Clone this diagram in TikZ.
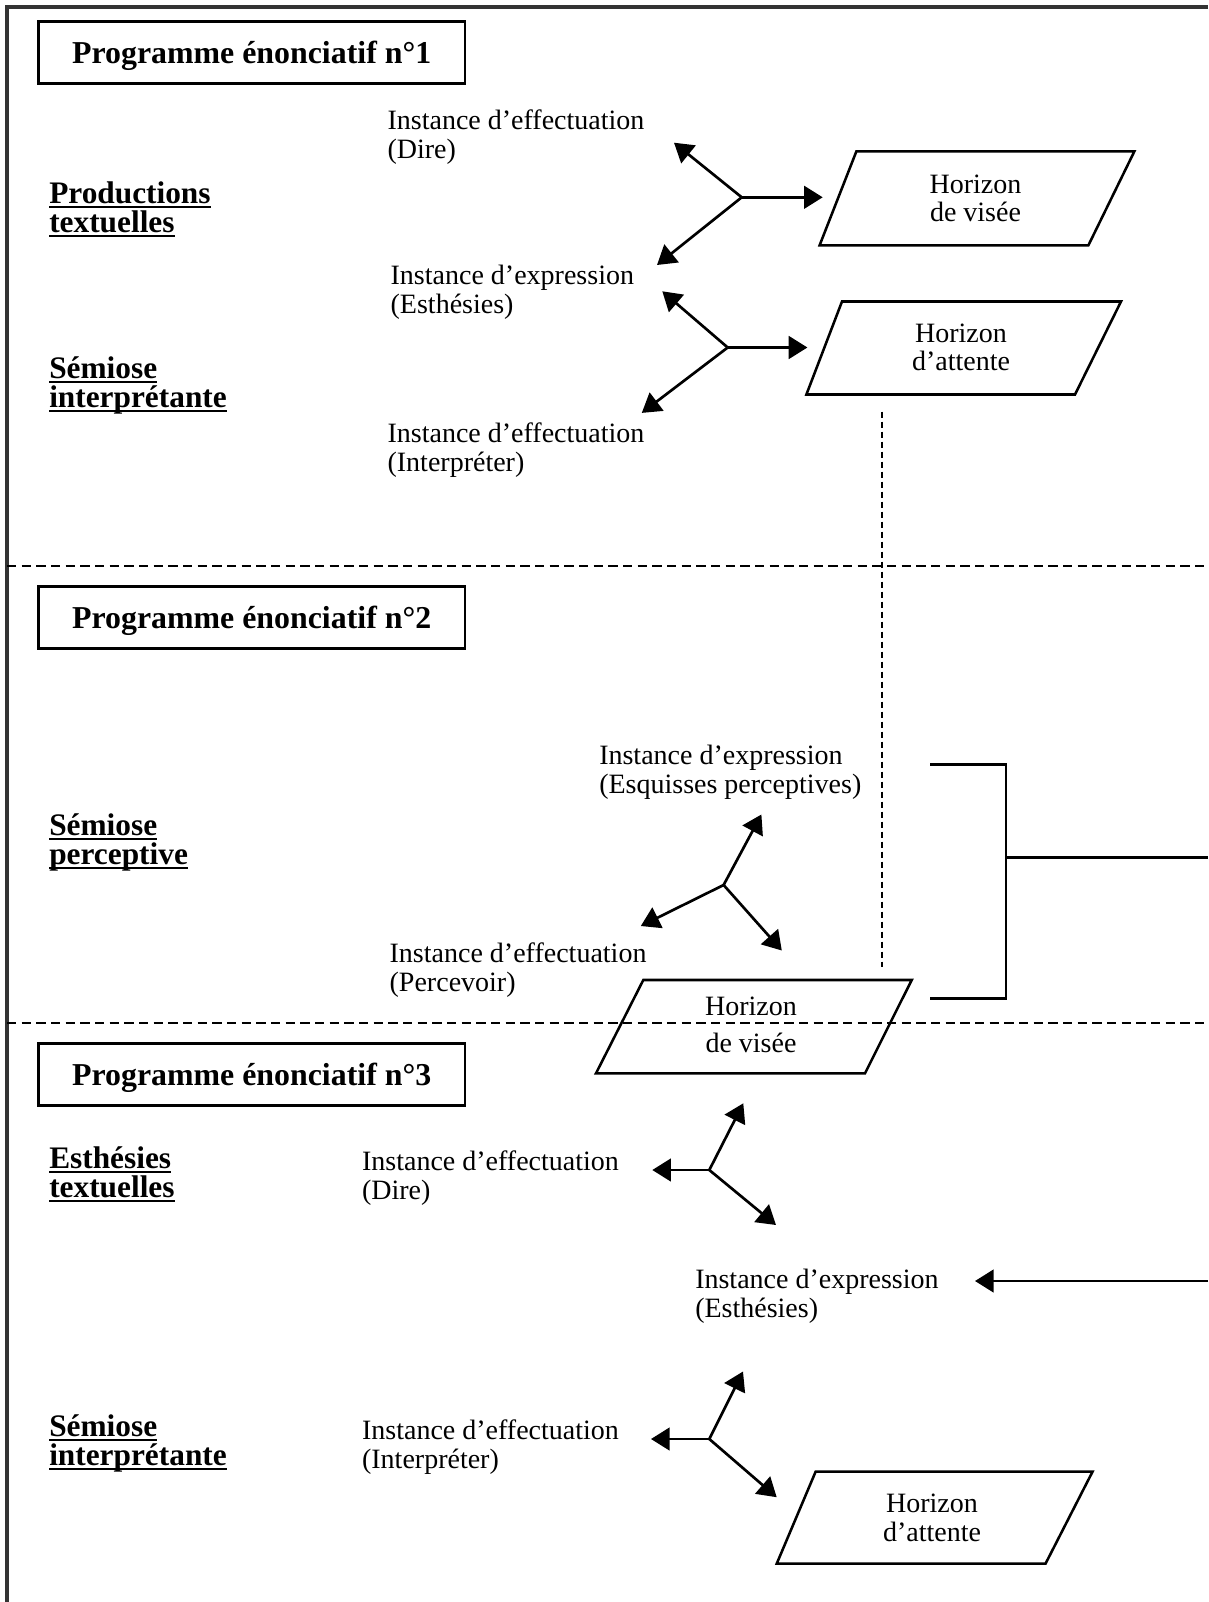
\documentclass[tikz,border=0pt]{standalone}
\usepackage{fontspec}
\setmainfont{Liberation Serif}
\usetikzlibrary{arrows.meta}
\newsavebox{\ulbox}
\newcommand{\uln}[1]{\sbox{\ulbox}{#1}\rlap{\rule[-3pt]{\wd\ulbox}{1.3pt}}\usebox{\ulbox}}
\begin{document}
\begin{tikzpicture}[x=0.75pt,y=-0.75pt,
  ln/.style={line width=1.9pt, line join=miter},
  arr/.style={line width=2pt, -{Triangle[length=14pt,width=17pt]}},
  sepline/.style={line width=1.8pt, dash pattern=on 7pt off 4pt},
  dotline/.style={line width=1.4pt, dash pattern=on 4.5pt off 3pt},
  framel/.style={line width=2.3pt, draw=black!80},
  txt/.style={font=\fontsize{21}{21.5}\selectfont, align=left, anchor=base west, inner sep=0pt},
  side/.style={font=\fontsize{23.5}{21.5}\selectfont\bfseries, align=left, anchor=base west, inner sep=0pt},
  hz/.style={font=\fontsize{21}{21.5}\selectfont, align=center, anchor=base, inner sep=0pt},
  prog/.style={draw, line width=2pt, font=\fontsize{23.9}{28}\selectfont\bfseries,
    minimum width=320pt, minimum height=46.5pt, inner sep=0pt, text height=17pt, text depth=0.8pt, anchor=center}
]
\useasboundingbox (0,0) rectangle (1208,1602);
% frame
\coordinate (fr0) at (7,7);
\coordinate (frR) at (1208,7);
\coordinate (frB) at (7,1602);
\draw[framel] (frR) -- (fr0) -- (frB);
% section separators
\coordinate (s1l) at (7,566); \coordinate (s1r) at (1208,566);
\coordinate (s2l) at (7,1023); \coordinate (s2r) at (1208,1023);
\draw[sepline] (s1l) -- (s1r);
\draw[sepline] (s2l) -- (s2r);

% program boxes
\node[prog] (prog1) at (251.7,52.5) {Programme énonciatif n°1};
\node[prog] (prog2) at (251.7,617.8) {Programme énonciatif n°2};
\node[prog] (prog3) at (251.7,1074.6) {Programme énonciatif n°3};

% side labels
\node[side] (side1) at (49,232.5) {\uln{Productions}\\\uln{textuelles}};
\node[side] (side2) at (49,407.5) {\uln{Sémiose}\\\uln{interprétante}};
\node[side] (side3) at (49,864.5) {\uln{Sémiose}\\\uln{perceptive}};
\node[side] (side4) at (49,1197.5) {\uln{Esthésies}\\\uln{textuelles}};
\node[side] (side5) at (49,1465.5) {\uln{Sémiose}\\\uln{interprétante}};

% instance labels
\node[txt] (t1) at (387.3,158.5) {Instance d’effectuation\\(Dire)};
\node[txt] (t2) at (390.4,313.5) {Instance d’expression\\(Esthésies)};
\node[txt] (t3) at (387.3,471) {Instance d’effectuation\\(Interpréter)};
\node[txt] (t4) at (599,793) {Instance d’expression\\(Esquisses perceptives)};
\node[txt] (t5) at (389.4,991) {Instance d’effectuation\\(Percevoir)};
\node[txt] (t6) at (361.8,1199.5) {Instance d’effectuation\\(Dire)};
\node[txt] (t7) at (695,1317) {Instance d’expression\\(Esthésies)};
\node[txt] (t8) at (361.8,1468.5) {Instance d’effectuation\\(Interpréter)};

% parallelograms
\coordinate (p1a) at (856.4,151.3); \coordinate (p1b) at (1134.4,151.3);
\coordinate (p1c) at (1088.4,245.3); \coordinate (p1d) at (819.6,245.3);
\draw[ln] (p1a) -- (p1b) -- (p1c) -- (p1d) -- cycle;
\node[hz] (h1) at (975.5,221.7) {Horizon\\de visée};

\coordinate (p2a) at (842,301.5); \coordinate (p2b) at (1121,301.5);
\coordinate (p2c) at (1075,394.5); \coordinate (p2d) at (806.4,394.5);
\draw[ln] (p2a) -- (p2b) -- (p2c) -- (p2d) -- cycle;
\node[hz] (h2) at (961,370.7) {Horizon\\d’attente};

\coordinate (p3a) at (643.3,980); \coordinate (p3b) at (911.7,980);
\coordinate (p3c) at (865,1073.3); \coordinate (p3d) at (596,1073.3);
\draw[ln] (p3a) -- (p3b) -- (p3c) -- (p3d) -- cycle;
\node[hz] (h3) at (751,1052.8) {Horizon\\[6.8pt]de visée};

\coordinate (p4a) at (815.6,1471.7); \coordinate (p4b) at (1092.5,1471.7);
\coordinate (p4c) at (1045.5,1563.7); \coordinate (p4d) at (776.7,1563.7);
\draw[ln] (p4a) -- (p4b) -- (p4c) -- (p4d) -- cycle;
\node[hz] (h4) at (932,1541) {Horizon\\d’attente};

% forks
\coordinate (f1) at (741.7,197.3);
\coordinate (f1a) at (674,142.7); \coordinate (f1b) at (657,265); \coordinate (f1c) at (822.7,197.3);
\draw[arr] (f1) -- (f1a); \draw[arr] (f1) -- (f1b); \draw[arr] (f1) -- (f1c);

\coordinate (f2) at (727.7,347.5);
\coordinate (f2a) at (662.3,291.3); \coordinate (f2b) at (641.8,412.9); \coordinate (f2c) at (807.4,347.5);
\draw[arr] (f2) -- (f2a); \draw[arr] (f2) -- (f2b); \draw[arr] (f2) -- (f2c);

\coordinate (f3) at (723.6,885);
\coordinate (f3a) at (761.4,814.5); \coordinate (f3b) at (640.8,926); \coordinate (f3c) at (781.8,950.5);
\draw[arr] (f3) -- (f3a); \draw[arr] (f3) -- (f3b); \draw[arr] (f3) -- (f3c);

\coordinate (f4) at (709.3,1170);
\coordinate (f4a) at (743.3,1103.3); \coordinate (f4b) at (652.3,1170); \coordinate (f4c) at (776,1225);
\draw[arr] (f4) -- (f4a); \draw[arr] (f4) -- (f4b); \draw[arr] (f4) -- (f4c);

\coordinate (f5) at (709.3,1439);
\coordinate (f5a) at (743,1371.5); \coordinate (f5b) at (651,1439); \coordinate (f5c) at (776.7,1497.2);
\draw[arr] (f5) -- (f5a); \draw[arr] (f5) -- (f5b); \draw[arr] (f5) -- (f5c);

% dotted vertical link
\coordinate (v1) at (882,411.7); \coordinate (v2) at (882,966.7);
\draw[dotline] (v1) -- (v2);

% bracket
\coordinate (b1) at (930,764.3); \coordinate (b2) at (1006,764.3);
\coordinate (b3) at (1006,998.3); \coordinate (b4) at (930,998.3);
\coordinate (bm) at (1006,857.7); \coordinate (bR) at (1208,857.7);
\draw[ln] (b1) -- (b2) -- (b3) -- (b4);
\draw[ln] (bm) -- (bR);

% incoming arrow
\coordinate (inR) at (1208,1281); \coordinate (inT) at (975,1281);
\draw[arr] (inR) -- (inT);
\end{tikzpicture}
\end{document}
